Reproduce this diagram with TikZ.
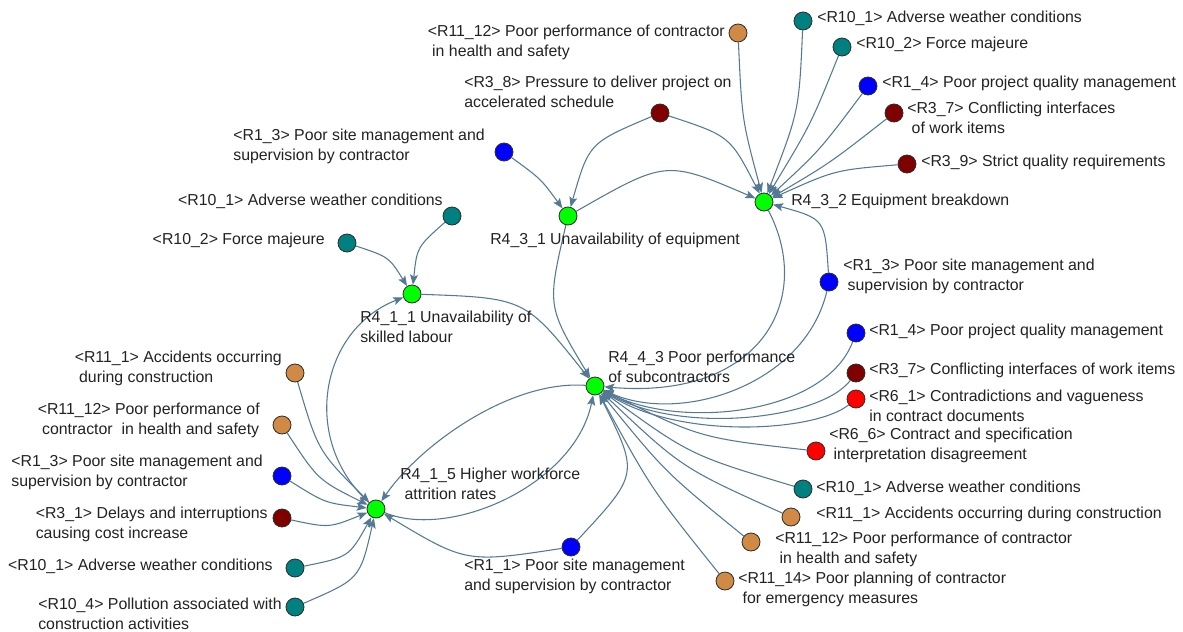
\documentclass[tikz,border=0pt]{standalone}
\usepackage{fontspec}
\setmainfont{Liberation Sans}
\usetikzlibrary{arrows.meta,backgrounds}
\definecolor{ink}{RGB}{34,34,34}
\definecolor{rim}{RGB}{45,45,45}
\definecolor{wire}{RGB}{84,121,148}
\definecolor{core}{RGB}{0,255,0}
\definecolor{wet}{RGB}{0,128,128}
\definecolor{mgt}{RGB}{0,0,255}
\definecolor{sched}{RGB}{128,0,0}
\definecolor{safe}{RGB}{208,138,70}
\definecolor{cont}{RGB}{255,0,0}
\newcommand{\lblfont}{\fontsize{11.9}{14.6}\selectfont}
\tikzset{
  dot/.style={circle,draw=rim,line width=0.6pt,fill=#1,minimum size=13.5pt,
    inner sep=0pt},
  lbl/.style={font=\lblfont,text=ink,inner sep=0pt,align=left},
  lblr/.style={lbl,anchor=north west},
  lbll/.style={lbl,anchor=north east},
  arr/.style={-{Stealth[length=7.5pt,width=6pt,inset=1.5pt]},line width=0.8pt,
    draw=wire},
}

\begin{document}
\begin{tikzpicture}[x=0.75pt,y=-0.75pt]
  \useasboundingbox (0,0) rectangle (1183,632);
  % risk events
  \node[dot=core] (r411) at (412,294) {};
  \node[dot=core] (r431) at (568,216) {};
  \node[dot=core] (r432) at (764,202) {};
  \node[dot=core] (r443) at (595,386) {};
  \node[dot=core] (r415) at (376,509) {};
  % causes
  \node[dot=safe] (q1112) at (738,33) {};
  \node[dot=wet] (q101) at (803,21) {};
  \node[dot=wet] (q102) at (842,47) {};
  \node[dot=mgt] (q14) at (868,86) {};
  \node[dot=sched] (q37) at (894,113) {};
  \node[dot=sched] (q39) at (907,164) {};
  \node[dot=sched] (q38) at (660,113) {};
  \node[dot=mgt] (p13) at (504,152) {};
  \node[dot=wet] (u101) at (452,216) {};
  \node[dot=wet] (u102) at (347,243) {};
  \node[dot=mgt] (q13) at (829,282) {};
  \node[dot=mgt] (s14) at (856,333) {};
  \node[dot=sched] (s37) at (856,373) {};
  \node[dot=cont] (s61) at (856,399) {};
  \node[dot=cont] (s66) at (816,451) {};
  \node[dot=wet] (s101) at (803,489) {};
  \node[dot=safe] (s111) at (791,517) {};
  \node[dot=safe] (s1112) at (751,542) {};
  \node[dot=safe] (s1114) at (725,581) {};
  \node[dot=mgt] (v11) at (571,547) {};
  \node[dot=safe] (w111) at (295,373) {};
  \node[dot=safe] (w1112) at (282,425) {};
  \node[dot=mgt] (w13) at (282,476) {};
  \node[dot=sched] (w31) at (282,518) {};
  \node[dot=wet] (w101) at (295,568) {};
  \node[dot=wet] (w104) at (295,607) {};

  \node[lblr] (t411) at (360,311) {R4\_1\_1 Unavailability of\\skilled labour};
  \node[lblr] (t431) at (490,233) {R4\_3\_1 Unavailability of equipment};
  \node[lblr] (t432) at (791,194) {R4\_3\_2 Equipment breakdown};
  \node[lblr] (t443) at (608,351) {R4\_4\_3 Poor performance\\of subcontractors};
  \node[lblr] (t415) at (400,468) {R4\_1\_5 Higher workforce\\\ attrition rates};

  \node[lbll] (tq1112) at (725,25) {<R11\_12> Poor performance of contractor\\\ in health and safety};
  \node[lblr] (tq101) at (817,11) {<R10\_1> Adverse weather conditions};
  \node[lblr] (tq102) at (856,37) {<R10\_2> Force majeure};
  \node[lblr] (tq14) at (882,76) {<R1\_4> Poor project quality management};
  \node[lblr] (tq37) at (907,102) {<R3\_7> Conflicting interfaces\\\ of work items};
  \node[lblr] (tq39) at (921,155) {<R3\_9> Strict quality requirements};
  \node[lblr] (tq38) at (464,76) {<R3\_8> Pressure to deliver project on\\accelerated schedule};
  \node[lbll] (tp13) at (485,129) {<R1\_3> Poor site management and\\supervision by contractor};
  \node[lbll] (tu101) at (443,194) {<R10\_1> Adverse weather conditions};
  \node[lbll] (tu102) at (325,233) {<R10\_2> Force majeure};
  \node[lblr] (tq13) at (843,259) {<R1\_3> Poor site management and\\\ supervision by contractor};
  \node[lblr] (ts14) at (869,324) {<R1\_4> Poor project quality management};
  \node[lblr] (ts37) at (869,363) {<R3\_7> Conflicting interfaces of work items};
  \node[lblr] (ts61) at (869,390) {<R6\_1> Contradictions and vagueness\\in contract documents};
  \node[lblr] (ts66) at (829,428) {<R6\_6> Contract and specification\\\ interpretation disagreement};
  \node[lblr] (ts101) at (816,481) {<R10\_1> Adverse weather conditions};
  \node[lblr] (ts111) at (816,507) {<R11\_1> Accidents occurring during construction};
  \node[lblr] (ts1112) at (775,532) {<R11\_12> Poor performance of contractor\\\ in health and safety};
  \node[lblr] (ts1114) at (738,572) {<R11\_14> Poor planning of contractor\\\ for emergency measures};
  \node[lblr] (tv11) at (464,559) {<R1\_1> Poor site management\\and supervision by contractor};
  \node[lbll] (tw111) at (282,351) {<R11\_1> Accidents occurring\\\ during construction};
  \node[lbll] (tw1112) at (260,403) {<R11\_12> Poor performance of\\\ contractor\ \ in health and safety};
  \node[lbll] (tw13) at (263,455) {<R1\_3> Poor site management and\\supervision by contractor};
  \node[lbll] (tw31) at (268,507) {<R3\_1> Delays and interruptions\\causing cost increase};
  \node[lbll] (tw101) at (273,559) {<R10\_1> Adverse weather conditions};
  \node[lbll] (tw104) at (282,598) {<R10\_4> Pollution associated with\\construction activities};

  \begin{scope}[on background layer]
    % into R4_3_2
    \draw[arr] (q1112) .. controls (742,120) .. (r432);
    \draw[arr] (q101) .. controls (799,111) .. (r432);
    \draw[arr] (q102) .. controls (811,124) .. (r432);
    \draw[arr] (q14) .. controls (820,150) .. (r432);
    \draw[arr] (q37) .. controls (830,163) .. (r432);
    \draw[arr] (q39) .. controls (835,170) .. (r432);
    \draw[arr] (q38) .. controls (730,136) .. (r432);
    \draw[arr] (r431) .. controls (666,160) .. (r432);
    \draw[arr] (q13) .. controls (825,219) .. (r432);
    % into R4_3_1
    \draw[arr] (q38) .. controls (589,143) .. (r431);
    \draw[arr] (p13) .. controls (541,179) .. (r431);
    % into R4_1_1
    \draw[arr] (u101) .. controls (417,247) .. (r411);
    \draw[arr] (u102) .. controls (389,257) .. (r411);
    \draw[arr] (r415) .. controls (300,440) and (320,330) .. (r411);
    % into R4_4_3
    \draw[arr] (r411) .. controls (525,298) .. (r443);
    \draw[arr] (r431) .. controls (547,306) .. (r443);
    \draw[arr] (r432) .. controls (815,300) and (760,400) .. (r443);
    \draw[arr] (r415) .. controls (450,540) and (575,485) .. (r443);
    \draw[arr] (v11) .. controls (639,474) .. (r443);
    \draw[arr] (q13) .. controls (805,385) and (680,425) .. (r443);
    \draw[arr] (s14) .. controls (825,415) and (680,430) .. (r443);
    \draw[arr] (s37) .. controls (820,420) and (680,435) .. (r443);
    \draw[arr] (s61) .. controls (815,432) and (680,440) .. (r443);
    \draw[arr] (s66) .. controls (700,438) .. (r443);
    \draw[arr] (s101) .. controls (690,455) .. (r443);
    \draw[arr] (s111) .. controls (682,468) .. (r443);
    \draw[arr] (s1112) .. controls (665,472) .. (r443);
    \draw[arr] (s1114) .. controls (652,490) .. (r443);
    % into R4_1_5
    \draw[arr] (r443) .. controls (510,380) and (420,445) .. (r415);
    \draw[arr] (v11) .. controls (466,563) .. (r415);
    \draw[arr] (w111) .. controls (318,451) .. (r415);
    \draw[arr] (w1112) .. controls (318,480) .. (r415);
    \draw[arr] (w13) .. controls (325,503) .. (r415);
    \draw[arr] (w31) .. controls (329,528) .. (r415);
    \draw[arr] (w101) .. controls (349,557) .. (r415);
    \draw[arr] (w104) .. controls (360,579) .. (r415);
  \end{scope}
\end{tikzpicture}
\end{document}
